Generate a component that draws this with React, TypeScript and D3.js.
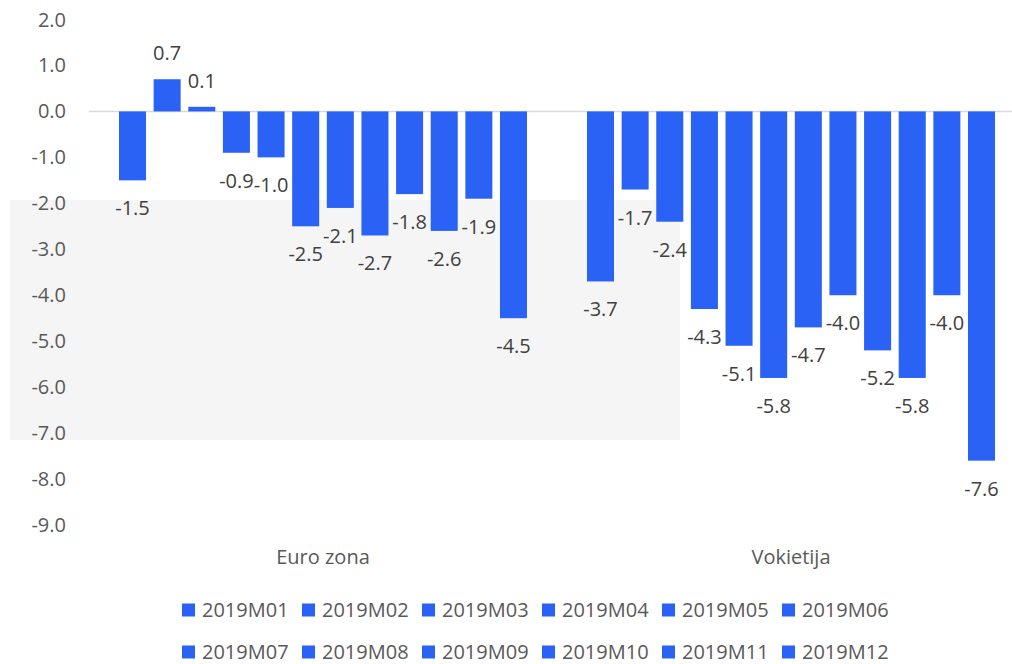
import React, { useRef, useEffect } from "react";
import * as d3 from "d3";

const categories = ["Euro zona", "Vokietija"];
const months = [
  "2019M01", "2019M02", "2019M03", "2019M04", "2019M05", "2019M06",
  "2019M07", "2019M08", "2019M09", "2019M10", "2019M11", "2019M12",
];
const euroValues = [-1.5, 0.7, 0.1, -0.9, -1.0, -2.5, -2.1, -2.7, -1.8, -2.6, -1.9, -4.5];
const deValues = [-3.7, -1.7, -2.4, -4.3, -5.1, -5.8, -4.7, -4.0, -5.2, -5.8, -4.0, -7.6];
const yTicks = [2, 1, 0, -1, -2, -3, -4, -5, -6, -7, -8, -9];

const seriesByCategory = [euroValues, deValues];

const width = 1012;
const height = 664;
const barColor = "#2962F5";
const font = "'Open Sans', sans-serif";

const App: React.FC = () => {
  const svgRef = useRef<SVGSVGElement | null>(null);

  useEffect(() => {
    if (!svgRef.current) return;
    const svg = d3.select(svgRef.current);
    svg.selectAll("*").remove();

    const y = d3.scaleLinear().domain([-9, 2]).range([525, 19.5]);
    const x0 = d3.scaleBand<string>().domain(categories).range([89, 1025]);
    const x1 = d3
      .scaleBand<string>()
      .domain(months)
      .range([30, x0.bandwidth() - 30])
      .paddingInner(0.22);

    // highlight box behind the bars
    svg
      .append("rect")
      .attr("x", 10)
      .attr("y", 200)
      .attr("width", 670)
      .attr("height", 240)
      .attr("fill", "#F5F5F5");

    // zero line
    svg
      .append("line")
      .attr("x1", 89)
      .attr("x2", width)
      .attr("y1", y(0))
      .attr("y2", y(0))
      .attr("stroke", "#D9D9D9")
      .attr("stroke-width", 1.5);

    // y tick labels
    svg
      .append("g")
      .selectAll("text")
      .data(yTicks)
      .enter()
      .append("text")
      .attr("x", 66)
      .attr("y", (d) => y(d))
      .attr("dy", "0.35em")
      .attr("text-anchor", "end")
      .attr("font-family", font)
      .attr("font-size", 20)
      .attr("fill", "#595959")
      .text((d) => d.toFixed(1));

    const groups = svg
      .append("g")
      .selectAll("g")
      .data(categories)
      .enter()
      .append("g")
      .attr("transform", (d) => `translate(${x0(d)},0)`);

    groups
      .selectAll("rect")
      .data((d, i) => seriesByCategory[i].map((v, j) => ({ m: months[j], v })))
      .enter()
      .append("rect")
      .attr("x", (d) => x1(d.m)!)
      .attr("width", x1.bandwidth())
      .attr("y", (d) => y(Math.max(0, d.v)))
      .attr("height", (d) => Math.abs(y(d.v) - y(0)))
      .attr("fill", barColor);

    groups
      .selectAll("text.val")
      .data((d, i) => seriesByCategory[i].map((v, j) => ({ m: months[j], v })))
      .enter()
      .append("text")
      .attr("class", "val")
      .attr("x", (d) => x1(d.m)! + x1.bandwidth() / 2)
      .attr("y", (d) => (d.v >= 0 ? y(d.v) - 26 : y(d.v) + 28))
      .attr("dy", "0.35em")
      .attr("text-anchor", "middle")
      .attr("font-family", font)
      .attr("font-size", 20)
      .attr("fill", "#404040")
      .text((d) => d.v.toFixed(1));

    // category labels
    svg
      .append("g")
      .selectAll("text")
      .data(categories)
      .enter()
      .append("text")
      .attr("x", (d) => x0(d)! + x0.bandwidth() / 2)
      .attr("y", 557)
      .attr("dy", "0.35em")
      .attr("text-anchor", "middle")
      .attr("font-family", font)
      .attr("font-size", 20)
      .attr("fill", "#595959")
      .text((d) => d);

    // legend, two rows of six
    const legend = svg
      .append("g")
      .selectAll("g")
      .data(months)
      .enter()
      .append("g")
      .attr(
        "transform",
        (d, i) => `translate(${182 + (i % 6) * 120},${i < 6 ? 610 : 652})`
      );
    legend
      .append("rect")
      .attr("x", 0)
      .attr("y", -6.5)
      .attr("width", 13)
      .attr("height", 13)
      .attr("fill", barColor);
    legend
      .append("text")
      .attr("x", 20)
      .attr("y", 0)
      .attr("dy", "0.35em")
      .attr("font-family", font)
      .attr("font-size", 20)
      .attr("fill", "#595959")
      .text((d) => d);
  }, []);

  return (
    <svg
      ref={svgRef}
      width={width}
      height={height}
      style={{ position: "absolute", left: 0, top: 0 }}
    ></svg>
  );
};

export default App;
